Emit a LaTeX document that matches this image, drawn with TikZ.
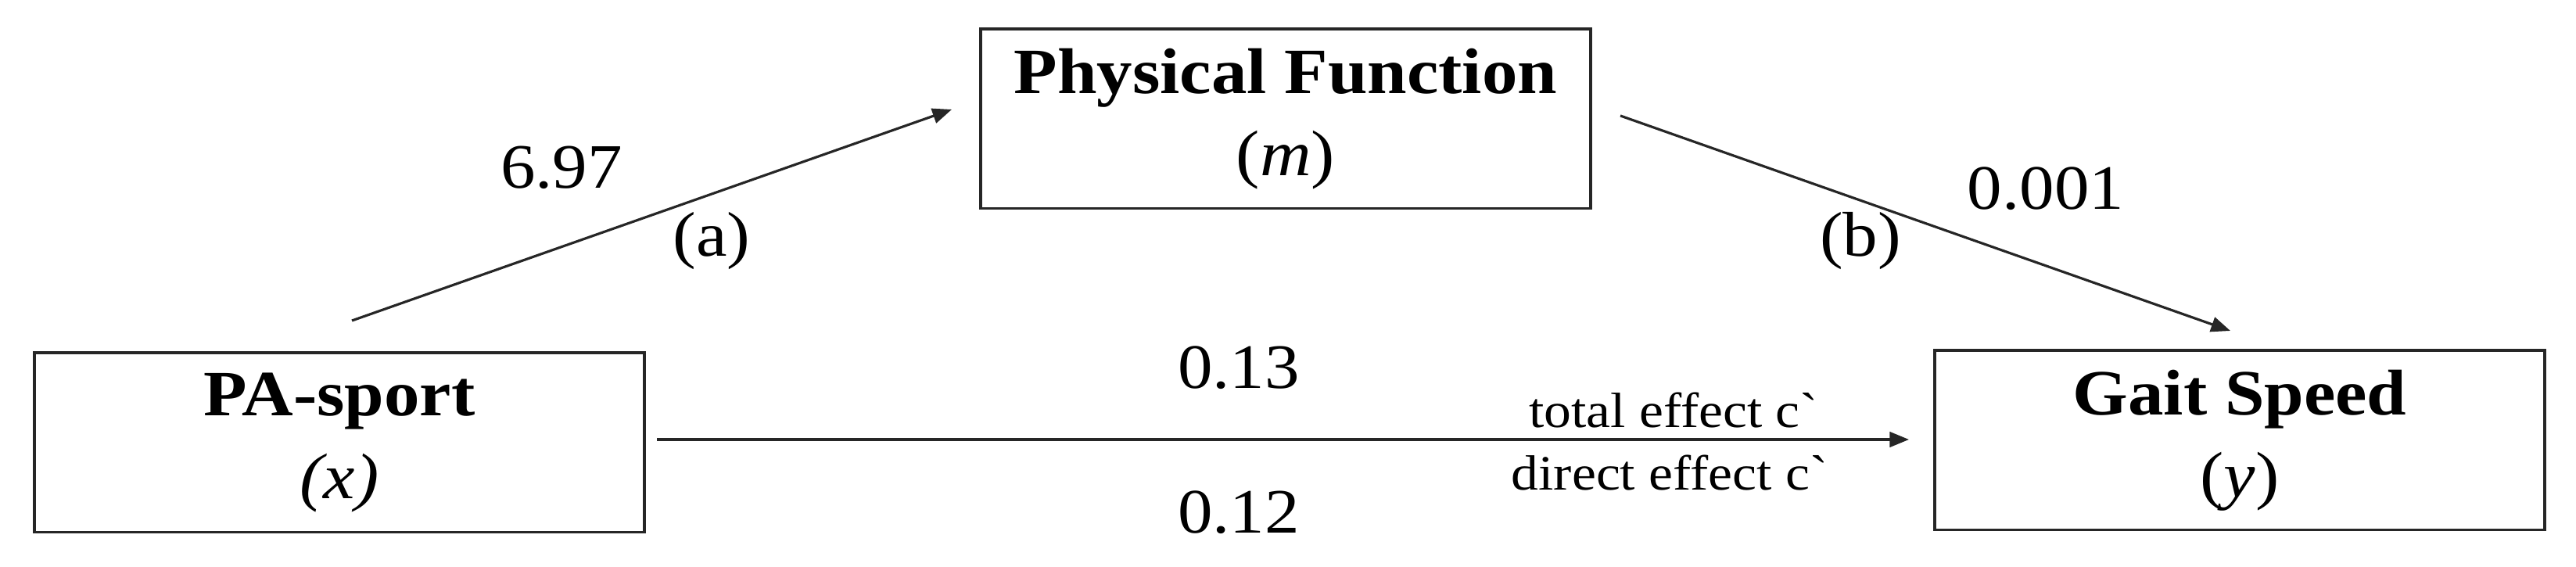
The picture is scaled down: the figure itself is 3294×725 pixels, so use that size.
\documentclass[tikz,border=0pt]{standalone}
\usepackage{fontspec}
\setmainfont{Liberation Serif}[FakeStretch=1.1]
\usetikzlibrary{arrows.meta}
\newcommand{\gravemark}{{\addfontfeature{Ligatures=TeXOff}\symbol{96}}}
\begin{document}
\begin{tikzpicture}[x=0.01cm,y=-0.01cm,
  box/.style={draw=black!85, line width=1.1pt, minimum width=7.8cm, minimum height=2.29cm,
    inner sep=0pt, align=center, font=\fontsize{23.5pt}{30pt}\selectfont},
  conn/.style={draw=black!85, line width=0.9pt, -{Triangle[length=7pt,width=5.5pt]}},
  num/.style={inner sep=0pt, font=\fontsize{23pt}{27pt}\selectfont},
  eff/.style={inner sep=0pt, font=\fontsize{18pt}{22pt}\selectfont}]
\useasboundingbox (0,0) rectangle (3294,725);
% boxes
\node[box] (pa) at (434,566) {\textbf{PA-sport}\\\textit{(x)}};
\node[box] (pf) at (1644,152) {\textbf{Physical Function}\\(\textit{m})};
\node[box] (gs) at (2864,563) {\textbf{Gait Speed}\\(\textit{y})};
% connector ends
\coordinate (a0) at (450,410);
\coordinate (a1) at (1217,140);
\coordinate (b0) at (2072,148);
\coordinate (b1) at (2852,423);
\coordinate (c0) at (840,562);
\coordinate (c1) at (2441,562);
\draw[conn] (a0) -- (a1);
\draw[conn] (b0) -- (b1);
\draw[conn] (c0) -- (c1);
% labels
\node[num] (la) at (718,214) {6.97};
\node[num] (lpa) at (910,308) {(a)};
\node[num] (lb) at (2616,241) {0.001};
\node[num] (lpb) at (2379,308) {(b)};
\node[num] (lt) at (1584,470) {0.13};
\node[num] (ld) at (1584,655) {0.12};
\node[eff] (et) at (2140,525) {total effect c\gravemark};
\node[eff] (ed) at (2135,605) {direct effect c\gravemark};
\end{tikzpicture}
\end{document}
